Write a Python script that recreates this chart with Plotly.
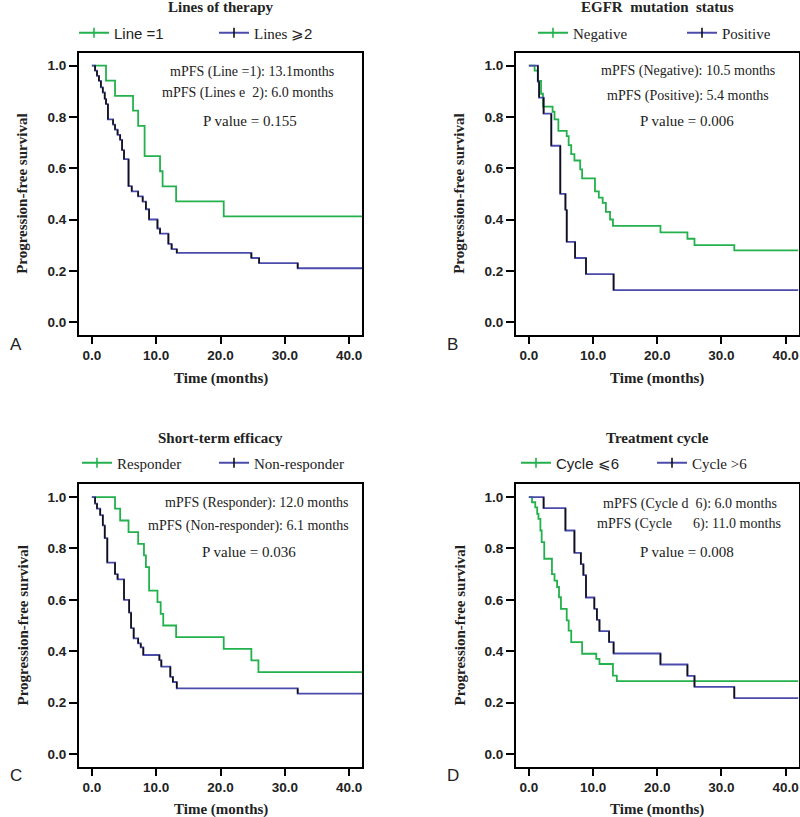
import plotly.graph_objects as go

W, H = 800, 817
X_MAX = 42

# ---------------- data ----------------
# Panel A: Lines of therapy
a_line1_t = [0, 2.2, 3.6, 6.4, 7.2, 8.2, 10.6, 11.0, 13.1, 20.5]
a_line1_s = [1.0, 0.941, 0.882, 0.824, 0.765, 0.647, 0.588, 0.529, 0.471, 0.412]
a_line2_t = [0, 0.5, 0.8, 1.1, 1.4, 1.7, 2.0, 2.2, 2.5, 3.3, 3.6, 4.0, 4.4, 4.7, 5.0,
             5.7, 6.2, 7.2, 7.9, 8.4, 8.9, 10.2, 10.6, 11.9, 12.4, 13.2, 24.8, 26.0, 32.0]
a_line2_s = [1.0, 0.98, 0.96, 0.94, 0.915, 0.895, 0.87, 0.85, 0.79, 0.77, 0.75, 0.73, 0.71, 0.67, 0.635,
             0.53, 0.51, 0.49, 0.47, 0.44, 0.40, 0.365, 0.345, 0.305, 0.285, 0.27, 0.25, 0.23, 0.21]

# Panel B: EGFR mutation status
b_neg_t = [0, 0.9, 1.4, 1.9, 2.2, 3.7, 4.0, 4.6, 5.9, 6.2, 6.6, 7.1, 8.0, 8.3, 10.3, 10.9,
           11.5, 12.0, 12.65, 13.1, 20.5, 24.7, 25.8, 32.0]
b_neg_s = [1.0, 0.98, 0.94, 0.89, 0.84, 0.82, 0.79, 0.745, 0.725, 0.69, 0.655, 0.63, 0.595, 0.56, 0.51, 0.485,
           0.465, 0.43, 0.40, 0.375, 0.35, 0.325, 0.30, 0.28]
b_pos_t = [0, 1.4, 1.6, 2.3, 3.5, 4.9, 5.7, 5.9, 7.2, 8.9, 13.2]
b_pos_s = [1.0, 0.9375, 0.875, 0.8125, 0.6875, 0.5, 0.4375, 0.3125, 0.25, 0.1875, 0.125]

# Panel C: Short-term efficacy
c_resp_t = [0, 3.6, 4.4, 5.7, 7.2, 8.1, 8.4, 8.9, 10.2, 10.7, 11.1, 13.1, 20.5, 24.8, 25.9]
c_resp_s = [1.0, 0.955, 0.909, 0.864, 0.818, 0.773, 0.727, 0.636, 0.591, 0.545, 0.5, 0.455, 0.409, 0.364, 0.318]
c_non_t = [0, 0.5, 0.8, 1.3, 1.7, 2.0, 2.4, 3.6, 4.0, 5.0, 5.8, 6.1, 6.5, 7.2, 7.6, 8.0,
           10.5, 10.8, 12.2, 12.6, 13.2, 32.0]
c_non_s = [1.0, 0.975, 0.955, 0.93, 0.89, 0.84, 0.745, 0.70, 0.68, 0.60, 0.55, 0.49, 0.45, 0.43, 0.415, 0.385,
           0.365, 0.34, 0.30, 0.28, 0.255, 0.235]

# Panel D: Treatment cycle
d_le6_t = [0, 0.5, 1.0, 1.3, 1.5, 1.8, 2.0, 2.4, 3.6, 4.0, 4.4, 4.7, 5.0, 5.9, 6.2, 6.6,
           8.3, 10.5, 11.0, 13.1, 13.7]
d_le6_s = [1.0, 0.98, 0.96, 0.935, 0.915, 0.87, 0.825, 0.76, 0.70, 0.675, 0.65, 0.61, 0.565, 0.52, 0.48, 0.435,
           0.39, 0.37, 0.35, 0.305, 0.283]
d_gt6_t = [0, 2.3, 5.7, 7.1, 8.1, 8.5, 8.9, 10.2, 10.6, 11.0, 12.5, 13.2, 20.5, 24.7, 25.8, 32.0]
d_gt6_s = [1.0, 0.957, 0.870, 0.783, 0.739, 0.696, 0.609, 0.565, 0.522, 0.478, 0.435, 0.391, 0.348, 0.304, 0.261, 0.217]

x_tick_vals = [0, 10, 20, 30, 40]
x_tick_text = ["0.0", "10.0", "20.0", "30.0", "40.0"]
y_tick_vals = [0, 0.2, 0.4, 0.6, 0.8, 1.0]
y_tick_text = ["0.0", "0.2", "0.4", "0.6", "0.8", "1.0"]

# ---------------- styling ----------------
GREEN = "#22b14c"
BLUE = "#4b4bab"
SERIF = "Liberation Serif, Times New Roman, serif"
SANS = "Liberation Sans, Arial, sans-serif"


def px(x):
    return x / W


def py(y):
    return 1 - y / H


# plot boxes in pixels: (left, right, top, bottom)
boxes = {
    1: (79, 362, 52.7, 335),
    2: (516, 798.5, 52.7, 335),
    3: (79, 362, 484.3, 766.7),
    4: (516, 798.5, 484.3, 766.7),
}

fig = go.Figure()


def ax_suffix(i):
    return "" if i == 1 else str(i)


def add_curve(i, t, s, color, name, tick_color, legend_id, black_verticals=False):
    sfx = ax_suffix(i)
    xs = list(t) + [X_MAX]
    ys = list(s) + [s[-1]]
    fig.add_trace(go.Scatter(
        x=xs, y=ys, mode="lines", line=dict(color=color, width=1.8, shape="hv"),
        xaxis="x" + sfx, yaxis="y" + sfx, showlegend=False, hoverinfo="skip"))
    if black_verticals:
        vx, vy = [], []
        for k in range(1, len(t)):
            vx += [t[k], t[k], None]
            vy += [s[k - 1], s[k], None]
        fig.add_trace(go.Scatter(
            x=vx, y=vy, mode="lines", line=dict(color="#111111", width=1.6),
            xaxis="x" + sfx, yaxis="y" + sfx, showlegend=False, hoverinfo="skip"))
    # legend entry
    fig.add_trace(go.Scatter(
        x=[None], y=[None], mode="lines+markers", name=name,
        line=dict(color=color, width=1.8),
        marker=dict(symbol="line-ns", size=7, line=dict(color=tick_color, width=1.6)),
        xaxis="x" + sfx, yaxis="y" + sfx, legend=legend_id))


def sans(txt):
    return f'<span style="font-family:Liberation Sans">{txt}</span>'


add_curve(1, a_line1_t, a_line1_s, GREEN, sans("Line =1"), GREEN, "legend")
add_curve(1, a_line2_t, a_line2_s, BLUE, "Lines " + sans("⩾2"), "#111111", "legend", True)
add_curve(2, b_neg_t, b_neg_s, GREEN, "Negative", GREEN, "legend2")
add_curve(2, b_pos_t, b_pos_s, BLUE, "Positive", "#111111", "legend2", True)
add_curve(3, c_resp_t, c_resp_s, GREEN, "Responder", GREEN, "legend3")
add_curve(3, c_non_t, c_non_s, BLUE, "Non-responder", "#111111", "legend3", True)
add_curve(4, d_le6_t, d_le6_s, GREEN, sans("Cycle ⩽6"), GREEN, "legend4")
add_curve(4, d_gt6_t, d_gt6_s, BLUE, "Cycle >6", "#111111", "legend4", True)

layout = dict(
    width=W, height=H, autosize=False,
    margin=dict(l=0, r=0, t=0, b=0, autoexpand=False),
    paper_bgcolor="white", plot_bgcolor="white", showlegend=True,
)

for i, (l, r, t, b) in boxes.items():
    sfx = ax_suffix(i)
    layout["xaxis" + sfx] = dict(
        domain=[px(l), px(r)], range=[-2, X_MAX], anchor="y" + sfx,
        tickvals=x_tick_vals, ticktext=x_tick_text, ticks="outside", ticklen=7, tickwidth=2,
        tickcolor="black", showline=True, linecolor="black", linewidth=2, mirror=True,
        showgrid=False, zeroline=False,
        tickfont=dict(family=SANS, size=13.5, color="#222", weight="bold"))
    layout["yaxis" + sfx] = dict(
        domain=[py(b), py(t)], range=[-0.05, 1.05], anchor="x" + sfx,
        tickvals=y_tick_vals, ticktext=y_tick_text, ticks="outside", ticklen=8, tickwidth=2,
        tickcolor="black", showline=True, linecolor="black", linewidth=2, mirror=True,
        showgrid=False, zeroline=False,
        tickfont=dict(family=SANS, size=13.5, color="#222", weight="bold"))

legend_common = dict(orientation="h", xanchor="left", yanchor="middle", bgcolor="rgba(0,0,0,0)",
                     font=dict(family=SERIF, size=15, color="#222"), entrywidth=95,
                     entrywidthmode="pixels", itemclick=False)
layout["legend"] = dict(legend_common, x=px(74), y=py(33))
layout["legend2"] = dict(legend_common, x=px(533), y=py(33), entrywidth=104)
layout["legend3"] = dict(legend_common, x=px(77), y=py(463), entrywidth=92)
layout["legend4"] = dict(legend_common, x=px(516), y=py(463), entrywidth=91)

annotations = []


def ann(text, x, y, size, family=SERIF, xanchor="center", bold=False, angle=0, color="#222"):
    annotations.append(dict(
        text=text, x=px(x), y=py(y), xref="paper", yref="paper", showarrow=False,
        xanchor=xanchor, yanchor="middle", textangle=angle,
        font=dict(family=family, size=size, color=color, weight="bold" if bold else "normal")))


titles = ["Lines of therapy", "EGFR  mutation  status", "Short-term efficacy", "Treatment cycle"]
letters = ["A", "B", "C", "D"]
for i, (l, r, t, b) in boxes.items():
    cx = (l + r) / 2
    ann(titles[i - 1], cx, t - 46, 15, bold=True)
    ann("Time (months)", cx, b + 43, 15, bold=True)
    ann("Progression-free survival", l - 57, (t + b) / 2, 15, bold=True, angle=-90)
    ann(letters[i - 1], l - 71, b + 9, 17, family=SANS, xanchor="left")

# in-plot annotations
ann("mPFS (Line =1): 13.1months", 336, 72, 14, xanchor="right")
ann("mPFS (Lines e  2): 6.0 months", 336, 93, 14, xanchor="right")
ann("P value = 0.155", 250, 121, 15)

ann("mPFS (Negative): 10.5 months", 688, 71, 14)
ann("mPFS (Positive): 5.4 months", 688, 96, 14)
ann("P value = 0.006", 687, 121, 15)

ann("mPFS (Responder): 12.0 months", 351, 503, 14, xanchor="right")
ann("mPFS (Non-responder): 6.1 months", 351, 526, 14, xanchor="right")
ann("P value = 0.036", 249, 552, 15)

ann("mPFS (Cycle d  6): 6.0 months", 779, 504, 14, xanchor="right")
ann("mPFS (Cycle      6): 11.0 months", 783, 524, 14, xanchor="right")
ann("P value = 0.008", 687, 552, 15)

layout["annotations"] = annotations
fig.update_layout(**layout)

fix_page = (
    "document.documentElement.style.margin='0';"
    "document.body.style.margin='0';"
    "document.body.style.overflow='hidden';"
)
fig.write_html("out.html", config={"responsive": False, "displayModeBar": False},
               post_script=fix_page)
